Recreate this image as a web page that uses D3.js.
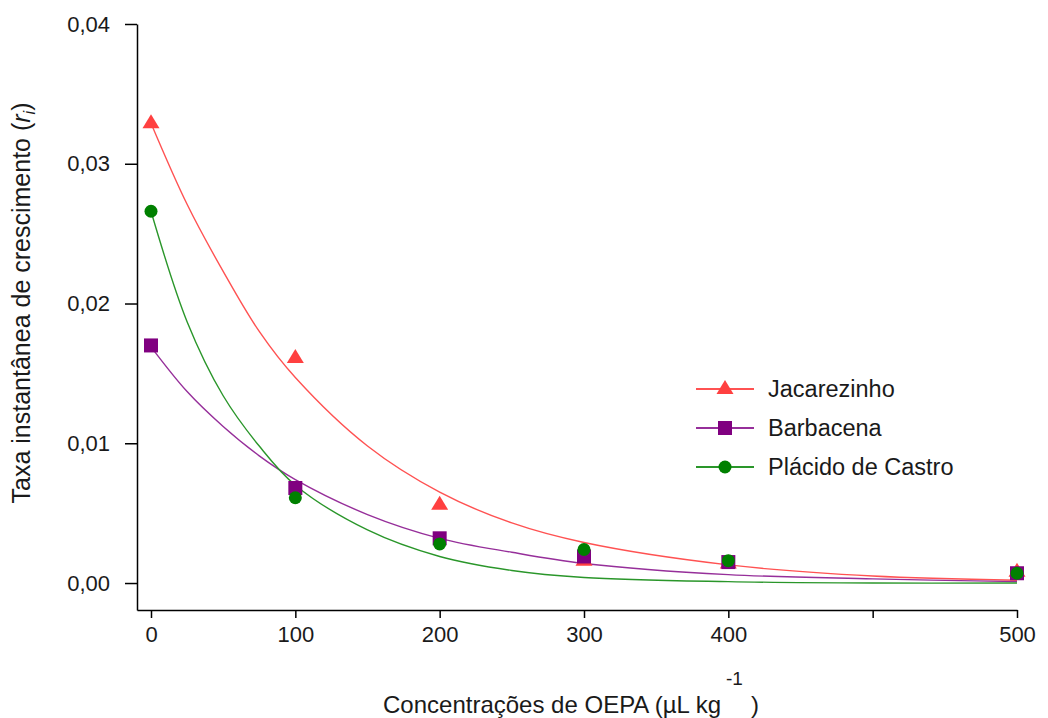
<html>
<head>
<meta charset="utf-8">
<script src="https://d3js.org/d3.v7.min.js"></script>
<style>
    body { margin: 0; background: #fff; }
    text { font-family: "Liberation Sans", Arial, sans-serif; fill: #1a1a1a; }
    .axis path, .axis line { stroke: #000; stroke-width: 1.5; }
    .axis text { font-size: 22px; }
</style>
</head>
<body>
<svg></svg>
<script>
    // measured points
    const doses = [0, 100, 200, 300, 400, 600];
    const jacarezinho = [0.0329, 0.0161, 0.0056, 0.0016, 0.0014, 0.0008];
    const barbacena = [0.0170, 0.0068, 0.0032, 0.0019, 0.0015, 0.0007];
    const placido = [0.0266, 0.0061, 0.0028, 0.0024, 0.0016, 0.0007];

    // fitted curves
    const fitX = [0, 25, 50, 75, 100, 150, 200, 250, 300, 400, 500, 600];
    const jacarezinhoFit = [0.0329, 0.0271, 0.0223, 0.0180, 0.0147, 0.0098, 0.0065, 0.0043, 0.0029, 0.0013, 0.0005, 0.0002];
    const barbacenaFit = [0.0169, 0.0137, 0.0112, 0.0091, 0.0074, 0.0049, 0.0032, 0.0022, 0.0014, 0.0006, 0.0003, 0.0001];
    const placidoFit = [0.0266, 0.0187, 0.0134, 0.0098, 0.0070, 0.0038, 0.0019, 0.0009, 0.0004, 0.0001, 0.0000, 0.0000];

    const xTicks = [0, 100, 200, 300, 400, 500, 600];
    const xTickLabels = ["0", "100", "200", "300", "400", "", "500"];
    const yTicks = [0, 0.01, 0.02, 0.03, 0.04];

    const seriesNames = ["Jacarezinho", "Barbacena", "Plácido de Castro"];

    const W = 1048, H = 718;
    const svg = d3.select("svg").attr("width", W).attr("height", H);

    const x = d3.scaleLinear().domain([-9.7, 600]).range([137, 1017]);
    const y = d3.scaleLinear().domain([-0.00193, 0.04]).range([610, 24]);

    const comma = d3.formatLocale({ decimal: ",", thousands: ".", grouping: [3], currency: ["", ""] }).format(".2f");

    svg.append("g").attr("class", "axis")
        .attr("transform", "translate(0,610)")
        .call(d3.axisBottom(x).tickValues(xTicks).tickSize(8).tickSizeOuter(0).tickPadding(8)
            .tickFormat((d, i) => xTickLabels[i]));

    svg.append("g").attr("class", "axis")
        .attr("transform", "translate(137,0)")
        .call(d3.axisLeft(y).tickValues(yTicks).tickSize(12).tickSizeOuter(0).tickPadding(15)
            .tickFormat(comma));

    const series = [
        { name: seriesNames[0], pts: jacarezinho, fit: jacarezinhoFit, line: "#ff5252", fill: "#ff4040", shape: "tri" },
        { name: seriesNames[1], pts: barbacena, fit: barbacenaFit, line: "#962f9a", fill: "#800080", shape: "sq" },
        { name: seriesNames[2], pts: placido, fit: placidoFit, line: "#2a962a", fill: "#008000", shape: "dot" }
    ];

    const line = d3.line()
        .x((d, i) => x(fitX[i]))
        .y(d => y(d))
        .curve(d3.curveCatmullRom.alpha(0.5));

    svg.selectAll("path.fit")
        .data(series)
        .enter().append("path").attr("class", "fit")
        .attr("d", s => line(s.fit))
        .attr("fill", "none")
        .attr("stroke", s => s.line)
        .attr("stroke-width", 1.4);

    function marker(g, s) {
        if (s.shape == "tri")
            g.append("path").attr("d", "M0,-9L8.5,5L-8.5,5Z").attr("fill", s.fill);
        else if (s.shape == "sq")
            g.append("rect").attr("x", -7).attr("y", -7).attr("width", 14).attr("height", 14).attr("fill", s.fill);
        else
            g.append("circle").attr("r", 6.5).attr("fill", s.fill);
    }

    series.forEach(function(s) {
        svg.append("g").selectAll("g")
            .data(s.pts)
            .enter().append("g")
            .attr("transform", (d, i) => "translate(" + x(doses[i]) + "," + y(d) + ")")
            .each(function() { marker(d3.select(this), s); });
    });

    // legend
    const legend = svg.append("g");
    series.forEach(function(s, i) {
        let ly = 389 + i * 39;
        legend.append("line")
            .attr("x1", 696).attr("x2", 754).attr("y1", ly).attr("y2", ly)
            .attr("stroke", s.line).attr("stroke-width", 1.8);
        let g = legend.append("g").attr("transform", "translate(725," + ly + ")");
        marker(g, s);
        legend.append("text")
            .attr("x", 768).attr("y", ly + 8)
            .attr("font-size", 23.5)
            .text(s.name);
    });

    // axis titles
    const xt = svg.append("text")
        .attr("x", 383).attr("y", 713)
        .attr("font-size", 24);
    xt.append("tspan").text("Concentrações de OEPA (µL kg");
    xt.append("tspan").attr("dx", 5).attr("dy", -28).attr("font-size", 19).text("-1");
    xt.append("tspan").attr("dx", 8).attr("dy", 28).text(")");

    const yt = svg.append("text")
        .attr("transform", "translate(30,303) rotate(-90)")
        .attr("text-anchor", "middle")
        .attr("font-size", 25);
    yt.append("tspan").text("Taxa instantânea de crescimento (");
    yt.append("tspan").attr("font-style", "italic").text("r");
    yt.append("tspan").attr("font-style", "italic").attr("font-size", 16).attr("dy", 5).text("i");
    yt.append("tspan").attr("dy", -5).text(")");
</script>
</body>
</html>
